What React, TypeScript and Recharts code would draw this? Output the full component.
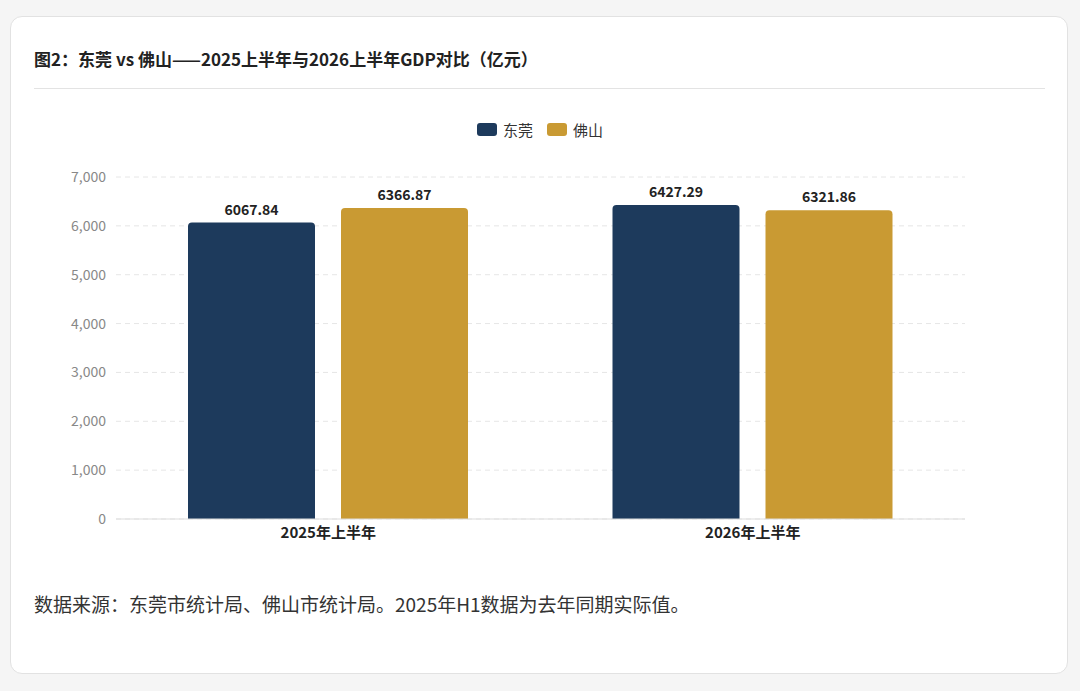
import React from 'react';
import { BarChart, Bar, XAxis, YAxis, CartesianGrid, LabelList } from 'recharts';

const periods = ['2025年上半年', '2026年上半年'];
const dongguan = [6067.84, 6427.29];
const foshan = [6366.87, 6321.86];
const yTicks = [0, 1000, 2000, 3000, 4000, 5000, 6000, 7000];

const data = periods.map((p, i) => ({ period: p, dongguan: dongguan[i], foshan: foshan[i] }));

const NAVY = '#1d3a5c';
const GOLD = '#c99a33';
const FONT = '"Noto Sans CJK SC", "Noto Sans", sans-serif';

export default function App() {
  return (
    <div style={{ position: 'absolute', left: 0, top: 0, width: 1080, height: 691, background: '#f5f5f5', fontFamily: FONT }}>
      <div style={{ position: 'absolute', left: 10, top: 16, width: 1058, height: 658, background: '#fff', border: '1px solid #e2e2e2', borderRadius: 12, boxSizing: 'border-box' }} />
      <div style={{ position: 'absolute', left: 34, top: 46, fontSize: 17, fontWeight: 700, color: '#222' }}>
        图2：东莞 vs 佛山——2025上半年与2026上半年GDP对比（亿元）
      </div>
      <div style={{ position: 'absolute', left: 34, top: 88, width: 1011, height: 1, background: '#e3e3e3' }} />
      <div style={{ position: 'absolute', top: 119, left: 0, width: 1080, display: 'flex', justifyContent: 'center', gap: 14, fontSize: 15, color: '#333' }}>
        {[['东莞', NAVY], ['佛山', GOLD]].map(([n, c]) => (
          <span key={n} style={{ display: 'flex', alignItems: 'center', gap: 6 }}>
            <span style={{ width: 20, height: 13, borderRadius: 3, background: c, display: 'inline-block' }} />
            {n}
          </span>
        ))}
      </div>
      <div style={{ position: 'absolute', left: 0, top: 100 }}>
        <BarChart width={1080} height={460} data={data} margin={{ top: 77, right: 115, left: 0, bottom: 11 }} barCategoryGap={72} barGap={26}>
          <CartesianGrid vertical={false} stroke="#e6e6e6" strokeDasharray="5 4" />
          <XAxis dataKey="period" height={30} tickLine={false} axisLine={{ stroke: '#dddddd' }} tick={{ fontSize: 15, fontWeight: 700, fill: '#222', fontFamily: FONT }} />
          <YAxis width={116} domain={[0, 7000]} ticks={yTicks} tickLine={false} axisLine={false} tickMargin={4} tickFormatter={(v: number) => v.toLocaleString('en-US')} tick={{ fontSize: 14, fill: '#888', fontFamily: FONT }} />
          <Bar dataKey="dongguan" fill={NAVY} radius={[4, 4, 0, 0]} isAnimationActive={false}>
            <LabelList dataKey="dongguan" position="top" offset={8} formatter={(v: number) => v.toFixed(2)} style={{ fontSize: 14, fontWeight: 600, fill: '#222', fontFamily: FONT }} />
          </Bar>
          <Bar dataKey="foshan" fill={GOLD} radius={[4, 4, 0, 0]} isAnimationActive={false}>
            <LabelList dataKey="foshan" position="top" offset={8} formatter={(v: number) => v.toFixed(2)} style={{ fontSize: 14, fontWeight: 600, fill: '#222', fontFamily: FONT }} />
          </Bar>
        </BarChart>
      </div>
      <div style={{ position: 'absolute', left: 34, top: 590, fontSize: 19, color: '#333' }}>
        数据来源：东莞市统计局、佛山市统计局。2025年H1数据为去年同期实际值。
      </div>
    </div>
  );
}
